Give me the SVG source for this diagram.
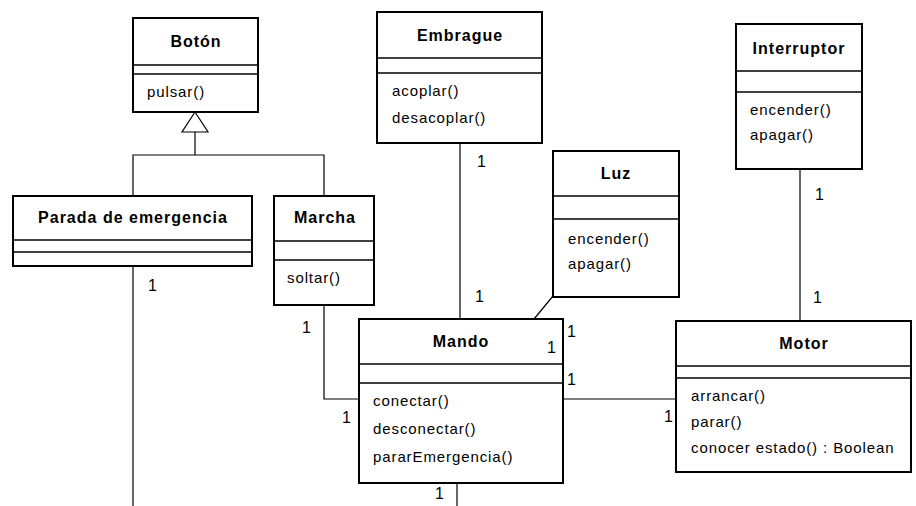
<svg xmlns="http://www.w3.org/2000/svg" width="916" height="506" viewBox="0 0 916 506">
<style>
.box{fill:#fff;stroke:#000;stroke-width:2}
.div{stroke:#000;stroke-width:1.5}
.t{font-family:"Liberation Sans",Arial,sans-serif;font-weight:bold;font-size:16px;letter-spacing:1px;text-anchor:middle;fill:#000}
.m{font-family:"Liberation Sans",Arial,sans-serif;font-size:15px;letter-spacing:0.9px;fill:#000}
.l{font-family:"Liberation Sans",Arial,sans-serif;font-size:16px;fill:#000}
.c{fill:none;stroke:#000;stroke-width:1.2}
</style>
<rect width="916" height="506" fill="#fff"/>
<g id="connectors">
<polygon class="c" points="195,112 182,132 208,132" fill="#fff"/>
<polyline class="c" points="195,132 195,155"/>
<polyline class="c" points="133,196 133,155 324,155 324,196"/>
<polyline class="c" points="133,266 133,506"/>
<polyline class="c" points="324,305 324,399 359,399"/>
<polyline class="c" points="460,143 460,319"/>
<polyline class="c" points="553,296 534,319"/>
<polyline class="c" points="563,399 676,399"/>
<polyline class="c" points="800,169 800,321"/>
<polyline class="c" points="457,483 457,506"/>
</g>
<g id="boton">
<rect class="box" x="133" y="18" width="125" height="94"/>
<line class="div" x1="133" y1="65" x2="258" y2="65"/>
<line class="div" x1="133" y1="74" x2="258" y2="74"/>
<text class="t" x="196" y="47">Botón</text>
<text class="m" x="147" y="97">pulsar()</text>
</g>
<g id="parada">
<rect class="box" x="13" y="196" width="239" height="70"/>
<line class="div" x1="13" y1="240" x2="252" y2="240"/>
<line class="div" x1="13" y1="252" x2="252" y2="252"/>
<text class="t" x="133" y="223">Parada de emergencia</text>
</g>
<g id="marcha">
<rect class="box" x="274" y="196" width="100" height="109"/>
<line class="div" x1="274" y1="241" x2="374" y2="241"/>
<line class="div" x1="274" y1="260" x2="374" y2="260"/>
<text class="t" x="325" y="223">Marcha</text>
<text class="m" x="287" y="283">soltar()</text>
</g>
<g id="embrague">
<rect class="box" x="377" y="12" width="165" height="131"/>
<line class="div" x1="377" y1="58" x2="542" y2="58"/>
<line class="div" x1="377" y1="73" x2="542" y2="73"/>
<text class="t" x="460" y="41">Embrague</text>
<text class="m" x="392" y="96">acoplar()</text>
<text class="m" x="392" y="123">desacoplar()</text>
</g>
<g id="luz">
<rect class="box" x="553" y="151" width="126" height="146"/>
<line class="div" x1="553" y1="196" x2="679" y2="196"/>
<line class="div" x1="553" y1="219" x2="679" y2="219"/>
<text class="t" x="616" y="179">Luz</text>
<text class="m" x="568" y="244">encender()</text>
<text class="m" x="568" y="269">apagar()</text>
</g>
<g id="interruptor">
<rect class="box" x="736" y="24" width="126" height="145"/>
<line class="div" x1="736" y1="71" x2="862" y2="71"/>
<line class="div" x1="736" y1="92" x2="862" y2="92"/>
<text class="t" x="799" y="54">Interruptor</text>
<text class="m" x="750" y="115">encender()</text>
<text class="m" x="750" y="140">apagar()</text>
</g>
<g id="mando">
<rect class="box" x="359" y="319" width="204" height="164"/>
<line class="div" x1="359" y1="364" x2="563" y2="364"/>
<line class="div" x1="359" y1="383" x2="563" y2="383"/>
<text class="t" x="461" y="347">Mando</text>
<text class="m" x="373" y="406">conectar()</text>
<text class="m" x="373" y="434">desconectar()</text>
<text class="m" x="373" y="462">pararEmergencia()</text>
</g>
<g id="motor">
<rect class="box" x="676" y="321" width="235" height="151"/>
<line class="div" x1="676" y1="366" x2="911" y2="366"/>
<line class="div" x1="676" y1="378" x2="911" y2="378"/>
<text class="t" x="804" y="349">Motor</text>
<text class="m" x="691" y="401">arrancar()</text>
<text class="m" x="691" y="427">parar()</text>
<text class="m" x="691" y="453">conocer estado() : Boolean</text>
</g>
<g id="labels">
<text class="l" x="148" y="291">1</text>
<text class="l" x="302" y="333">1</text>
<text class="l" x="342" y="423">1</text>
<text class="l" x="477" y="167">1</text>
<text class="l" x="475" y="302">1</text>
<text class="l" x="815" y="200">1</text>
<text class="l" x="813" y="303">1</text>
<text class="l" x="435" y="499">1</text>
<text class="l" x="567" y="337">1</text>
<text class="l" x="547" y="353">1</text>
<text class="l" x="567" y="385">1</text>
<text class="l" x="664" y="422">1</text>
</g>
</svg>
